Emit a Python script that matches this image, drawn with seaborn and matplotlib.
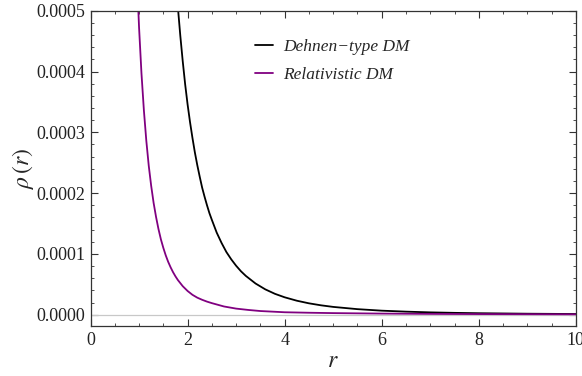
import matplotlib
matplotlib.use("Agg")
import matplotlib.pyplot as plt
from matplotlib.ticker import MultipleLocator, FormatStrFormatter
import seaborn as sns
import pandas as pd

# Dehnen-type dark matter density profile
r_dehnen = [1.8, 1.85, 1.9, 1.95, 2.0, 2.05, 2.1, 2.15, 2.2, 2.25, 2.3, 2.35,
            2.4, 2.45, 2.5, 2.6, 2.7, 2.8, 2.9, 3.0, 3.1, 3.2, 3.4, 3.6, 3.8,
            4.0, 4.25, 4.5, 4.75, 5.0, 5.5, 6.0, 6.5, 7.0, 7.5, 8.0, 9.0, 10.0]
rho_dehnen = [5.06e-4, 4.59e-4, 4.17e-4, 3.79e-4, 3.46e-4, 3.17e-4, 2.91e-4,
              2.67e-4, 2.46e-4, 2.27e-4, 2.09e-4, 1.94e-4, 1.80e-4, 1.67e-4,
              1.56e-4, 1.35e-4, 1.18e-4, 1.03e-4, 9.1e-5, 8.05e-5, 7.14e-5,
              6.38e-5, 5.13e-5, 4.17e-5, 3.43e-5, 2.86e-5, 2.30e-5, 1.87e-5,
              1.54e-5, 1.28e-5, 9.1e-6, 6.6e-6, 5.0e-6, 3.8e-6, 3.0e-6,
              2.4e-6, 1.6e-6, 1.1e-6]

# Relativistic dark matter density profile
r_rel = [0.95, 1.0, 1.05, 1.1, 1.15, 1.2, 1.25, 1.3, 1.35, 1.4, 1.45, 1.5,
         1.55, 1.6, 1.65, 1.7, 1.75, 1.8, 1.9, 2.0, 2.1, 2.2, 2.3, 2.4, 2.5,
         2.75, 3.0, 3.25, 3.5, 4.0, 4.5, 5.0, 6.0, 7.0, 8.0, 9.0, 10.0]
rho_rel = [5.69e-4, 4.73e-4, 3.97e-4, 3.36e-4, 2.86e-4, 2.45e-4, 2.12e-4,
           1.84e-4, 1.61e-4, 1.41e-4, 1.24e-4, 1.10e-4, 9.76e-5, 8.7e-5,
           7.8e-5, 7.0e-5, 6.31e-5, 5.7e-5, 4.69e-5, 3.9e-5, 3.27e-5, 2.8e-5,
           2.45e-5, 2.15e-5, 1.9e-5, 1.35e-5, 1.0e-5, 7.8e-6, 6.0e-6, 4.0e-6,
           3.2e-6, 2.6e-6, 1.8e-6, 1.3e-6, 1.0e-6, 0.8e-6, 0.6e-6]

labels = ["Dehnen\u2212type DM", "Relativistic DM"]
colors = ["#000000", "#800080"]

df = pd.concat([
    pd.DataFrame({"r": r_dehnen, "rho": rho_dehnen, "model": labels[0]}),
    pd.DataFrame({"r": r_rel, "rho": rho_rel, "model": labels[1]}),
])

sns.set_theme(style="ticks")
plt.rcParams["font.family"] = ["Liberation Serif", "DejaVu Serif"]
plt.rcParams["mathtext.fontset"] = "stix"

fig = plt.figure(figsize=(5.82, 3.76), dpi=100)
ax = fig.add_axes([0.1555, 0.133, 0.834, 0.8385])

ax.axhline(0, color="#c8c8c8", lw=0.9, zorder=1)
sns.lineplot(data=df, x="r", y="rho", hue="model", palette=colors,
             hue_order=labels, lw=1.3, ax=ax, sort=False, estimator=None,
             solid_joinstyle="round")

ax.set_xlim(0, 10)
ax.set_ylim(-1.86e-5, 5e-4)

ax.xaxis.set_major_locator(MultipleLocator(2))
ax.xaxis.set_minor_locator(MultipleLocator(0.5))
ax.yaxis.set_major_locator(MultipleLocator(1e-4))
ax.yaxis.set_minor_locator(MultipleLocator(2e-5))
ax.yaxis.set_major_formatter(FormatStrFormatter("%.4f"))
ax.xaxis.set_major_formatter(FormatStrFormatter("%d"))

for side in ["top", "right", "bottom", "left"]:
    ax.spines[side].set_visible(True)
    ax.spines[side].set_color("#333333")
    ax.spines[side].set_linewidth(0.9)

ax.tick_params(which="both", direction="in", top=True, right=True,
               color="#333333", labelsize=13, labelcolor="#222222", pad=4)
ax.tick_params(which="major", length=5, width=0.8)
ax.tick_params(which="minor", length=2.5, width=0.6)

ax.set_xlabel(r"$r$", fontsize=17, labelpad=2)
ax.set_ylabel(r"$\rho\,(r)$", fontsize=17, labelpad=0)

leg = ax.legend(loc="upper left", bbox_to_anchor=(0.339, 0.91), frameon=False,
                prop={"family": "Liberation Serif", "style": "italic", "size": 12.5},
                handlelength=1.05, handletextpad=0.55, labelspacing=0.65,
                borderpad=0, borderaxespad=0)

fig.savefig("out.png", dpi=100)
